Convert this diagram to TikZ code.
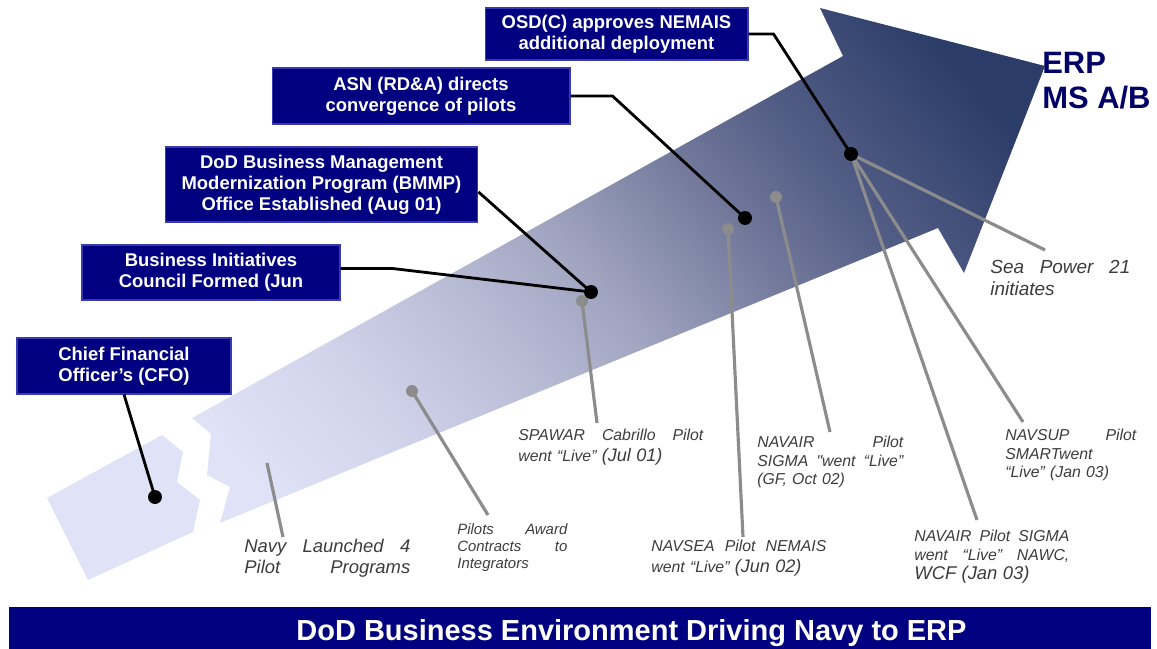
\documentclass[tikz,border=0pt]{standalone}
\usepackage{fontspec}
\setmainfont{Liberation Sans}
\newfontfamily\labelfont{Liberation Sans}
\usepackage{tikz}
\usetikzlibrary{positioning}

\definecolor{navybox}{HTML}{000080}
\definecolor{navyedge}{HTML}{3A3AB0}
\definecolor{erpblue}{HTML}{000066}
\definecolor{pinline}{HTML}{8C8C8C}
\definecolor{labelgray}{HTML}{3C3C3C}
\definecolor{shadeA}{HTML}{E0E3F7}
\definecolor{shadeB}{HTML}{D0D3EA}
\definecolor{shadeC}{HTML}{B8BBD4}
\definecolor{shadeD}{HTML}{A0A4C0}
\definecolor{shadeE}{HTML}{737A9C}
\definecolor{shadeF}{HTML}{525D85}
\definecolor{shadeG}{HTML}{2B3C68}
\pgfdeclarehorizontalshading{arrowshade}{100bp}{color(0bp)=(shadeA); color(20bp)=(shadeA); color(30bp)=(shadeB); color(40bp)=(shadeC); color(48bp)=(shadeD); color(58bp)=(shadeE); color(66bp)=(shadeF); color(78bp)=(shadeG); color(100bp)=(shadeG)}

\begin{document}
\begin{tikzpicture}[
        x=0.02cm, y=-0.02cm,
        evtbox/.style={fill=navybox, draw=navyedge, line width=0.6pt, text=white,
          align=center, inner sep=0pt, font=\bfseries\fontsize{10.5}{12}\selectfont},
        pinlab/.style={anchor=north west, inner sep=0pt, align=left, text=labelgray,
          font=\labelfont\itshape\fontsize{9}{10.5}\selectfont},
        bdot/.style={circle, fill=black, inner sep=0pt, minimum size=0.28cm},
        gdot/.style={circle, fill=pinline, inner sep=0pt, minimum size=0.24cm},
        bline/.style={black, line width=1.6pt},
        gline/.style={pinline, line width=1.8pt},
      ]
      \useasboundingbox (0,0) rectangle (1157,649);
      % broken arrow
      \fill[shadeA] (47,498) -- (162,435) -- (183,452) -- (177,482) -- (200,500)
        -- (193,532) -- (88,580) -- cycle;
      \shade[shading=arrowshade, shading angle=40] (192,418) -- (211,434) -- (207,475)
        -- (230,487) -- (220,523) -- (938,228) -- (964,273) -- (1045,66) -- (820,8)
        -- (843,56) -- cycle;

      % event boxes
      \node[evtbox, minimum width=4.28cm, minimum height=1.12cm] (cfo) at (124,366) {Chief Financial\\ Officer's (CFO)};
      \node[evtbox, minimum width=5.16cm, minimum height=1.10cm] (bic) at (211,272.5) {Business Initiatives\\ Council Formed (Jun};
      \node[evtbox, minimum width=6.26cm, minimum height=1.50cm] (bmmp) at (321.5,184.5) {DoD Business Management\\ Modernization Program (BMMP)\\ Office Established (Aug 01)};
      \node[evtbox, minimum width=5.96cm, minimum height=1.12cm] (asn) at (421,96) {ASN (RD\&A) directs\\ convergence of pilots};
      \node[evtbox, minimum width=5.26cm, minimum height=1.04cm] (osd) at (616.5,34) {OSD(C) approves NEMAIS\\ additional deployment};

      \node[anchor=north west, inner sep=0pt, align=left, text=erpblue,
        font=\bfseries\fontsize{17.6}{19.8}\selectfont] (erp) at (1042,52) {ERP\\MS A/B};

      \node[fill=navybox, minimum width=22.84cm, minimum height=0.84cm, inner sep=0pt, text=white,
        font=\bfseries\fontsize{16.5}{18}\selectfont] (banner) at (580,628)
        {\hspace*{2.06cm}\raisebox{-0.25cm}[0pt][0pt]{DoD Business Environment Driving Navy to ERP}};

      % pilot labels
      \node[pinlab, text width=3.32cm, font=\labelfont\itshape\fontsize{10.5}{11.9}\selectfont] (navylab) at (244,539)
        {Navy\hfill Launched\hfill 4\\Pilot\hfill Programs};
      \node[pinlab, text width=2.2cm, font=\labelfont\itshape\fontsize{8.5}{9.9}\selectfont] (awardlab) at (457,523)
        {Pilots\hfill Award\\Contracts\hfill to\\Integrators};
      \node[pinlab, text width=3.7cm, font=\labelfont\itshape\fontsize{9}{11.6}\selectfont] (spawarlab) at (518,429)
        {SPAWAR\hfill Cabrillo\hfill Pilot\\went “Live” {\fontsize{10.3}{11}\selectfont(Jul 01)}};
      \node[pinlab, text width=3.5cm, font=\labelfont\itshape\fontsize{9}{11.6}\selectfont] (navsealab) at (651,540)
        {NAVSEA\hfill Pilot\hfill NEMAIS\\went “Live” {\fontsize{10.3}{11}\selectfont(Jun 02)}};
      \node[pinlab, text width=2.92cm] (navairlab) at (757,436)
        {NAVAIR\hfill Pilot\\SIGMA\hfill "went\hfill “Live”\\(GF, Oct 02)};
      \node[pinlab, text width=2.62cm] (navsuplab) at (1005,429)
        {NAVSUP\hfill Pilot\\SMARTwent\\“Live” (Jan 03)};
      \node[pinlab, text width=3.1cm, font=\labelfont\itshape\fontsize{9}{10.6}\selectfont] (wcflab) at (914,530)
        {NAVAIR\hfill Pilot\hfill SIGMA\\went\hfill “Live”\hfill NAWC,\\{\fontsize{10.5}{11}\selectfont WCF (Jan 03)}};
      \node[pinlab, text width=2.8cm, font=\labelfont\itshape\fontsize{10.8}{12.5}\selectfont] (sealab) at (990,260)
        {Sea\hfill Power\hfill 21\\initiates};

      % gray pins
      \coordinate (navytop) at (267,463);
      \coordinate (navyend) at (283,537);
      \coordinate (awardend) at (488,515);
      \coordinate (spawarend) at (597,423);
      \coordinate (navseaend) at (743,537);
      \coordinate (navairend) at (830,432);
      \coordinate (seaend) at (1045,250);
      \coordinate (navsupend) at (1023,422);
      \coordinate (wcfend) at (977,520);
      \node[gdot] (awarddot) at (412,391) {};
      \node[gdot] (spawardot) at (582,301) {};
      \node[gdot] (navseadot) at (728,229) {};
      \node[gdot] (navairdot) at (776,197) {};
      \draw[gline] (navytop) -- (navyend);
      \draw[gline] (awarddot.center) -- (awardend);
      \draw[gline] (spawardot.center) -- (spawarend);
      \draw[gline] (navseadot.center) -- (navseaend);
      \draw[gline] (navairdot.center) -- (navairend);

      % black pins
      \node[bdot] (cfodot) at (155,497) {};
      \node[bdot] (bicdot) at (591,292) {};
      \node[bdot] (asndot) at (745,218) {};
      \node[bdot] (osddot) at (851,154) {};
      \foreach \e in {seaend,navsupend,wcfend}
        \draw[gline] (osddot) -- (\e);
      \draw[bline] (cfo.south) -- (cfodot.center);
      \draw[bline] ([yshift=0.08cm]bic.east) -- ++(52,0) -- (bicdot.center);
      \draw[bline] ([yshift=-0.15cm]bmmp.east) -- (bicdot.center);
      \draw[bline] (asn.east) -- ++(42,0) -- (asndot.center);
      \draw[bline] (osd.east) -- ++(25,0) -- (osddot.center);
    \end{tikzpicture}
\end{document}
